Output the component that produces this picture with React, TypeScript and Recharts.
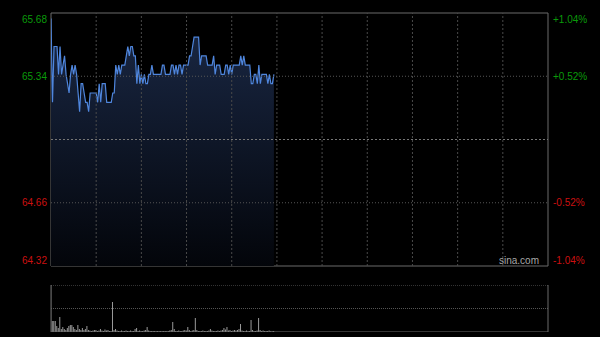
import React from "react";
import {
  ComposedChart,
  Area,
  Bar,
  XAxis,
  YAxis,
  ReferenceLine,
  ReferenceArea,
} from "recharts";

// Minute-by-minute prices from the open (HK session: 330 minutes)
const prices: number[] = [
  65.65, 65.2, 65.5, 65.5, 65.5, 65.35, 65.5, 65.35, 65.4, 65.45,
  65.35, 65.3, 65.25, 65.35, 65.4, 65.35, 65.4, 65.35, 65.25, 65.15,
  65.3, 65.3, 65.25, 65.2, 65.2, 65.15, 65.25, 65.25, 65.25, 65.25,
  65.25, 65.2, 65.3, 65.2, 65.3, 65.3, 65.3, 65.2, 65.2, 65.2,
  65.2, 65.25, 65.25, 65.4, 65.35, 65.4, 65.35, 65.4, 65.4, 65.4,
  65.45, 65.5, 65.45, 65.5, 65.5, 65.45, 65.45, 65.3, 65.4, 65.3,
  65.35, 65.3, 65.35, 65.3, 65.3, 65.35, 65.35, 65.4, 65.35, 65.35,
  65.35, 65.35, 65.35, 65.35, 65.4, 65.4, 65.35, 65.35, 65.35, 65.35,
  65.4, 65.4, 65.35, 65.4, 65.35, 65.4, 65.4, 65.35, 65.4, 65.4,
  65.4, 65.4, 65.45, 65.45, 65.5, 65.55, 65.55, 65.55, 65.55, 65.4,
  65.45, 65.45, 65.45, 65.45, 65.4, 65.4, 65.4, 65.4, 65.45, 65.35,
  65.4, 65.4, 65.4, 65.35, 65.35, 65.35, 65.4, 65.4, 65.35, 65.4,
  65.35, 65.4, 65.4, 65.4, 65.4, 65.4, 65.45, 65.4, 65.45, 65.4,
  65.4, 65.4, 65.4, 65.3, 65.3, 65.35, 65.35, 65.3, 65.4, 65.3,
  65.35, 65.35, 65.35, 65.35, 65.3, 65.35, 65.3, 65.3, 65.35,
];

const volumes: number[] = [
  470, 110, 110, 110, 60, 40, 150, 30, 50, 30,
  20, 40, 60, 70, 70, 50, 30, 20, 70, 30,
  20, 40, 20, 30, 60, 20, 15, 10, 15, 20,
  20, 10, 15, 30, 15, 10, 25, 15, 20, 10,
  10, 300, 20, 30, 15, 10, 10, 15, 10, 10,
  15, 10, 10, 15, 10, 10, 30, 40, 10, 15,
  10, 10, 15, 20, 50, 15, 10, 10, 10, 10,
  8, 10, 8, 10, 8, 10, 10, 8, 10, 15,
  20, 100, 30, 10, 10, 15, 10, 10, 15, 20,
  15, 50, 20, 10, 15, 20, 140, 20, 10, 10,
  10, 15, 10, 10, 10, 15, 30, 15, 10, 10,
  10, 15, 10, 15, 20, 40, 25, 50, 15, 20,
  10, 15, 20, 15, 20, 30, 80, 15, 10, 10,
  15, 10, 10, 120, 20, 10, 10, 15, 140, 20,
  10, 15, 10, 10, 10, 15, 8, 8, 10,
];

const prevClose = 65.0;
const priceTicks = [64.32, 64.66, 65.34, 65.68];
const priceLabels = ["64.32", "64.66", "65.34", "65.68"];
const percentLabels = ["-1.04%", "-0.52%", "+0.52%", "+1.04%"];
const timeGrid = [30, 60, 90, 120, 150, 180, 210, 240, 270, 300];
const sessionMinutes = 330;
const volumeMax = 470;

const data = prices.map((p, i) => ({ t: i, price: p, vol: volumes[i] }));

const FONT = "'Liberation Sans', Arial, sans-serif";

const LeftTick = (props: any) => {
  const { y, payload } = props;
  const idx = priceTicks.indexOf(payload.value);
  if (idx < 0) return null;
  const up = payload.value > prevClose;
  let dy = 0;
  if (idx === priceTicks.length - 1) dy = 6;
  if (idx === 0) dy = -6;
  return (
    <text
      x={47}
      y={y + dy}
      textAnchor="end"
      dominantBaseline="central"
      fill={up ? "#0a9a0a" : "#cc1010"}
      fontSize={10}
      fontFamily={FONT}
    >
      {priceLabels[idx]}
    </text>
  );
};

const RightTick = (props: any) => {
  const { y, payload } = props;
  const idx = priceTicks.indexOf(payload.value);
  if (idx < 0) return null;
  const up = payload.value > prevClose;
  let dy = 0;
  if (idx === priceTicks.length - 1) dy = 6;
  if (idx === 0) dy = -6;
  return (
    <text
      x={553}
      y={y + dy}
      textAnchor="start"
      dominantBaseline="central"
      fill={up ? "#0a9a0a" : "#cc1010"}
      fontSize={10}
      fontFamily={FONT}
    >
      {percentLabels[idx]}
    </text>
  );
};

export default function App() {
  return (
    <div
      style={{
        position: "absolute",
        left: 0,
        top: 0,
        width: 600,
        height: 337,
        background: "#000",
        overflow: "hidden",
      }}
    >
      <div style={{ position: "absolute", left: 0, top: 0 }}>
        <ComposedChart
          width={600}
          height={280}
          data={data}
          margin={{ top: 13, right: 0, bottom: 14, left: 0 }}
        >
          <defs>
            <linearGradient id="fillGrad" x1="0" y1="0" x2="0" y2="1">
              <stop offset="0%" stopColor="#1a2845" stopOpacity={1} />
              <stop offset="100%" stopColor="#03050a" stopOpacity={1} />
            </linearGradient>
          </defs>
          <XAxis
            dataKey="t"
            type="number"
            domain={[0, sessionMinutes]}
            hide
            allowDataOverflow
          />
          <YAxis
            yAxisId="left"
            orientation="left"
            width={51}
            domain={[64.32, 65.68]}
            ticks={priceTicks}
            tick={<LeftTick />}
            axisLine={false}
            tickLine={false}
            allowDataOverflow
          />
          <YAxis
            yAxisId="right"
            orientation="right"
            width={52}
            domain={[64.32, 65.68]}
            ticks={priceTicks}
            tick={<RightTick />}
            axisLine={false}
            tickLine={false}
            allowDataOverflow
          />
          <ReferenceArea
            yAxisId="left"
            x1={0}
            x2={sessionMinutes}
            y1={64.32}
            y2={65.68}
            fill="none"
            fillOpacity={0}
            stroke="#6a6a6a"
            strokeWidth={1}
            ifOverflow="visible"
          />
          <Area
            yAxisId="left"
            type="linear"
            dataKey="price"
            stroke="#4f86dd"
            strokeWidth={1.2}
            fill="url(#fillGrad)"
            fillOpacity={1}
            isAnimationActive={false}
            dot={false}
            activeDot={false}
          />
          {timeGrid.map((t) => (
            <ReferenceLine
              key={"v" + t}
              yAxisId="left"
              x={t}
              stroke="#4a4a4a"
              strokeDasharray="2 2"
            />
          ))}
          <ReferenceLine yAxisId="left" y={65.34} stroke="#555" strokeDasharray="1 2" />
          <ReferenceLine yAxisId="left" y={64.66} stroke="#555" strokeDasharray="1 2" />
          <ReferenceLine yAxisId="left" y={prevClose} stroke="#777" strokeDasharray="2 2" />
        </ComposedChart>
      </div>
      <div
        style={{
          position: "absolute",
          left: 499,
          top: 255,
          color: "#a8a8a8",
          fontSize: 10,
          fontFamily: FONT,
          lineHeight: "12px",
        }}
      >
        sina.com
      </div>
      <div style={{ position: "absolute", left: 0, top: 285 }}>
        <ComposedChart
          width={600}
          height={47}
          data={data}
          margin={{ top: 0, right: 52, bottom: 0, left: 51 }}
        >
          <XAxis
            dataKey="t"
            type="number"
            domain={[0, sessionMinutes]}
            hide
            allowDataOverflow
          />
          <YAxis domain={[0, volumeMax]} hide allowDataOverflow />
          <Bar
            dataKey="vol"
            fill="#9a9a9a"
            barSize={1}
            isAnimationActive={false}
          />
          <ReferenceLine y={volumeMax / 2} stroke="#555" strokeDasharray="1 1" />
          <ReferenceLine y={volumeMax} stroke="#666" strokeDasharray="1 1" ifOverflow="visible" />
          <ReferenceLine y={0} stroke="#6a6a6a" ifOverflow="visible" />
          <ReferenceLine x={0} stroke="#6a6a6a" ifOverflow="visible" />
          <ReferenceLine x={sessionMinutes} stroke="#6a6a6a" ifOverflow="visible" />
        </ComposedChart>
      </div>
    </div>
  );
}
